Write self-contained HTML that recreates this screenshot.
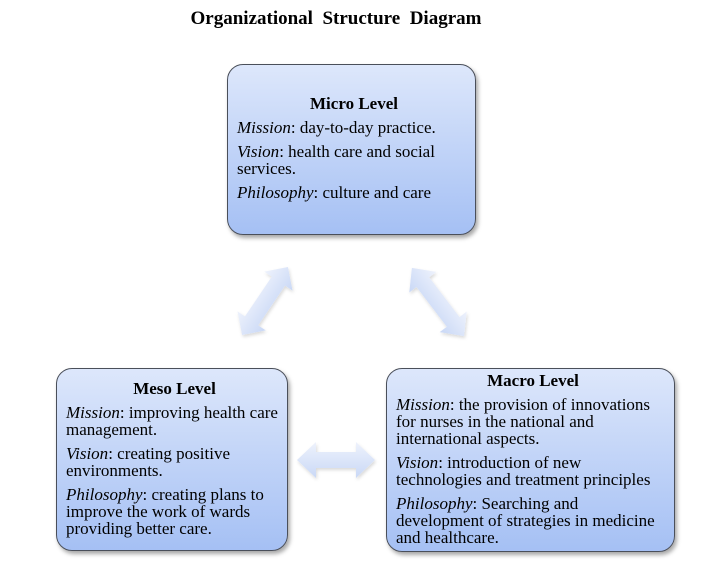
<!DOCTYPE html>
<html><head><style>
body{margin:0;width:712px;height:561px;background:#fff;position:relative;overflow:hidden;font-family:"Liberation Serif",serif;color:#000}
.t{position:absolute;left:0;width:712px;top:8px;text-align:center;font-weight:bold;font-size:19px;letter-spacing:0px}
.t span{position:relative;left:-20px}
.b{position:absolute;box-sizing:border-box;border:1.5px solid #4a4f5a;border-radius:16px;background:linear-gradient(#dde7fb,#a5c0f4);box-shadow:2px 3px 4px rgba(0,0,0,0.35);font-size:17px;line-height:17px;white-space:nowrap}
.b h{display:block;text-align:center;font-weight:bold;margin-bottom:7px}
.b p{margin:0 0 7px 0}
</style></head><body>
<div class="t"><span>Organizational&nbsp; Structure&nbsp; Diagram</span></div>
<div class="b" style="left:227px;top:64px;width:249px;height:171px;padding:30px 4px 0 9px"><h>Micro Level</h><p><i>Mission</i>: day-to-day practice.</p><p><i>Vision</i>: health care and social<br>services.</p><p><i>Philosophy</i>: culture and care</p></div>
<div class="b" style="left:56px;top:368px;width:232px;height:183px;padding:11px 4px 0 9px"><h>Meso Level</h><p><i>Mission</i>: improving health care<br>management.</p><p><i>Vision</i>: creating positive<br>environments.</p><p><i>Philosophy</i>: creating plans to<br>improve the work of wards<br>providing better care.</p></div>
<div class="b" style="left:386px;top:368px;width:289px;height:184px;padding:3px 4px 0 9px"><h>Macro Level</h><p><i>Mission</i>: the provision of innovations<br>for nurses in the national and<br>international aspects.</p><p><i>Vision</i>: introduction of new<br>technologies and treatment principles</p><p><i>Philosophy</i>: Searching and<br>development of strategies in medicine<br>and healthcare.</p></div>
<svg width="712" height="561" style="position:absolute;left:0;top:0">
<defs><linearGradient id="g" x1="0" y1="0" x2="0" y2="1"><stop offset="0" stop-color="#eef2fc"/><stop offset="1" stop-color="#c9d8f6"/></linearGradient>
<filter id="s"><feDropShadow dx="1" dy="2" stdDeviation="1.5" flood-opacity="0.15"/></filter></defs>
<g filter="url(#s)">
<path transform="translate(336,460)" d="M-39,0 L-20,-18 L-20,-8 L20,-8 L20,-18 L39,0 L20,18 L20,8 L-20,8 L-20,18 Z" fill="url(#g)"/>
<path transform="translate(265,301) rotate(-56)" d="M-41,0 L-24,-17 L-24,-8 L24,-8 L24,-17 L41,0 L24,17 L24,8 L-24,8 L-24,17 Z" fill="url(#g)"/>
<path transform="translate(438,302) rotate(52.6)" d="M-43,0 L-25,-17 L-25,-8 L25,-8 L25,-17 L43,0 L25,17 L25,8 L-25,8 L-25,17 Z" fill="url(#g)"/>
</g></svg>
</body></html>
